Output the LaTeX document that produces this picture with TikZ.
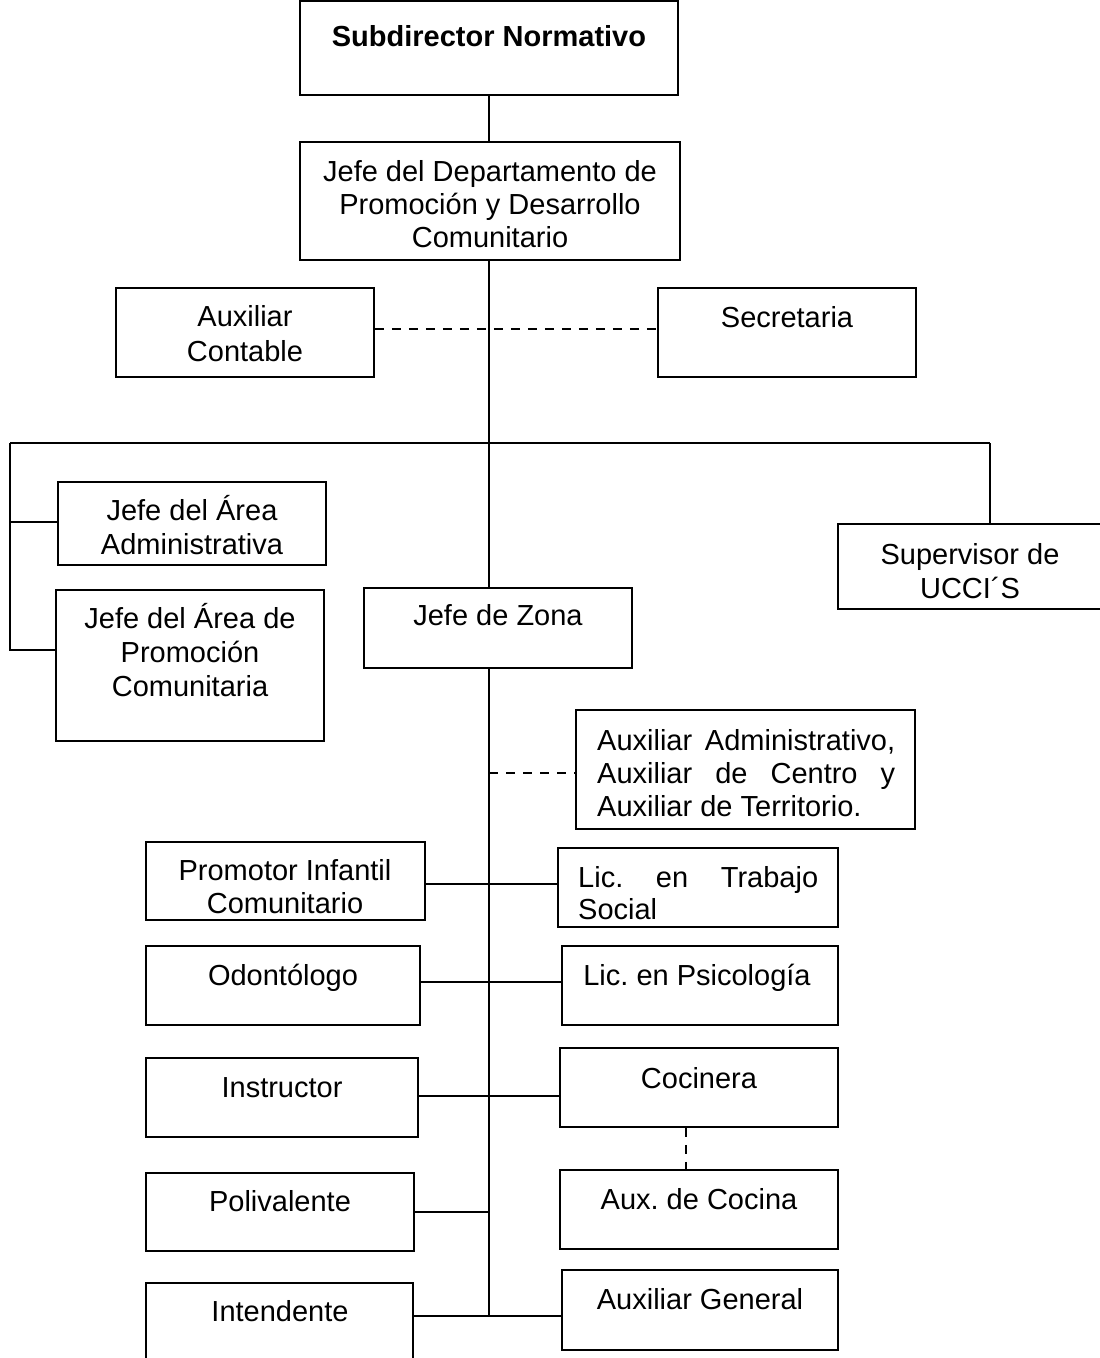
\documentclass[tikz,border=0pt]{standalone}
\usepackage{fontspec}
\setmainfont{Liberation Sans}
\usetikzlibrary{fit}
\frenchspacing
\begin{document}
\begin{tikzpicture}[x=1pt,y=-1pt,
  box/.style={draw, line width=1.5pt, inner sep=0pt, rectangle},
  lbl/.style={font=\fontsize{29}{33}\selectfont\frenchspacing, align=center, anchor=base, inner sep=0pt},
  jlbl/.style={lbl, align=left, anchor=base west},
  link/.style={line width=1.5pt},
  dlink/.style={line width=1.5pt, dash pattern=on 9pt off 8pt}]
\useasboundingbox (0,0) rectangle (1100,1358);

\node[box, fit={(300,1) (678,95)}] (sub) {};
\node[lbl, font=\fontsize{29}{33}\selectfont\bfseries] (tsub) at (489,46) {Subdirector Normativo};
\node[box, fit={(300,142) (680,260)}] (jdd) {};
\node[lbl] (tjdd) at (490,247) {Jefe del Departamento de\\Promoción y Desarrollo\\Comunitario};
\node[box, fit={(116,288) (374,377)}] (ac) {};
\node[lbl, font=\fontsize{29}{35}\selectfont] (tac) at (245,361) {Auxiliar\\Contable};
\node[box, fit={(658,288) (916,377)}] (sec) {};
\node[lbl] (tsec) at (787,327) {Secretaria};
\node[box, fit={(58,482) (326,565)}] (jaa) {};
\node[lbl, font=\fontsize{29}{34}\selectfont] (tjaa) at (192,554) {Jefe del Área\\Administrativa};
\node[box, fit={(56,590) (324,741)}] (jap) {};
\node[lbl, font=\fontsize{29}{34}\selectfont] (tjap) at (190,696) {Jefe del Área de\\Promoción\\Comunitaria};
\node[box, fit={(838,524) (1102,609)}] (sup) {};
\node[lbl, font=\fontsize{29}{34}\selectfont] (tsup) at (970,598) {Supervisor de\\UCCI´S};
\node[box, fit={(364,588) (632,668)}] (jz) {};
\node[lbl] (tjz) at (498,625) {Jefe de Zona};
\node[box, fit={(576,710) (915,829)}] (aux) {};
\node[jlbl] (taux) at (597,816) {\makebox[298pt][s]{Auxiliar Administrativo,}\\\makebox[298pt][s]{Auxiliar de Centro y}\\Auxiliar de Territorio.};
\node[box, fit={(146,842) (425,920)}] (pic) {};
\node[lbl] (tpic) at (285,913) {Promotor Infantil\\Comunitario};
\node[box, fit={(558,848) (838,927)}] (lts) {};
\node[jlbl, font=\fontsize{29}{32}\selectfont] (tlts) at (578,919) {\makebox[240pt][s]{Lic. en Trabajo}\\Social};
\node[box, fit={(146,946) (420,1025)}] (odo) {};
\node[lbl] (todo) at (283,985) {Odontólogo};
\node[box, fit={(562,946) (838,1025)}] (psi) {};
\node[lbl] (tpsi) at (697,985) {Lic. en Psicología};
\node[box, fit={(146,1058) (418,1137)}] (ins) {};
\node[lbl] (tins) at (282,1097) {Instructor};
\node[box, fit={(560,1048) (838,1127)}] (coc) {};
\node[lbl] (tcoc) at (699,1088) {Cocinera};
\node[box, fit={(560,1170) (838,1249)}] (axc) {};
\node[lbl] (taxc) at (699,1209) {Aux. de Cocina};
\node[box, fit={(146,1173) (414,1251)}] (pol) {};
\node[lbl] (tpol) at (280,1211) {Polivalente};
\node[box, fit={(146,1283) (413,1375)}] (int) {};
\node[lbl] (tint) at (280,1321) {Intendente};
\node[box, fit={(562,1270) (838,1350)}] (ag) {};
\node[lbl] (tag) at (700,1309) {Auxiliar General};

\coordinate (tr) at (489,443);
\coordinate (bl) at (10,443);
\coordinate (br) at (990,443);
\coordinate (lb) at (10,650);
\coordinate (la) at (10,522);
\coordinate (tb) at (489,1316);
\coordinate (cd) at (686,0);
\coordinate (yac) at (0,329);
\coordinate (ypic) at (0,884);
\coordinate (yodo) at (0,982);
\coordinate (yins) at (0,1096);
\coordinate (yaux) at (0,773);

\draw[link] (sub.south -| tr) -- (tr |- jdd.north);
\draw[link] (tr |- jdd.south) -- (tr) -- (tr |- jz.north);
\draw[dlink] (ac.east |- yac) -- (sec.west |- yac);
\draw[link] (bl) -- (br);
\draw[link] (br) -- (br |- sup.north);
\draw[link] (bl) -- (lb) -- (lb -| jap.west);
\draw[link] (la) -- (la -| jaa.west);
\draw[link] (tr |- jz.south) -- (tb);
\draw[dlink] (tr |- yaux) -- (aux.west |- yaux);
\draw[link] (pic.east |- ypic) -- (lts.west |- ypic);
\draw[link] (odo.east |- yodo) -- (psi.west |- yodo);
\draw[link] (ins.east |- yins) -- (coc.west |- yins);
\draw[dlink] (cd |- coc.south) -- (cd |- axc.north);
\draw[link] (pol.east) -- (pol.east -| tr);
\draw[link] (int.east |- tb) -- (ag.west |- tb);
\end{tikzpicture}
\end{document}
